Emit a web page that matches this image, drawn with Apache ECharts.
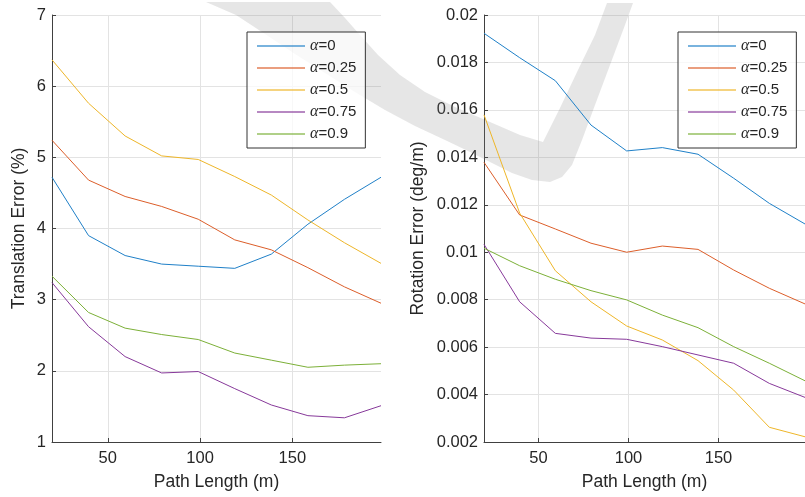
<!DOCTYPE html>
<html>
<head>
<meta charset="utf-8">
<script src="https://cdn.jsdelivr.net/npm/echarts@6/dist/echarts.min.js"></script>
<style>
html,body{margin:0;padding:0;background:#fff;overflow:hidden;}
#chart{width:805px;height:497px;}
</style>
</head>
<body>
<div id="chart"></div>
<script>
// ---- data ----
const pathLength = [19.8, 39.6, 59.4, 79.2, 99, 118.8, 138.6, 158.4, 178.2, 198];
const seriesNames = ['α=0', 'α=0.25', 'α=0.5', 'α=0.75', 'α=0.9'];
const xTicks = [50, 100, 150];

// Translation error (%)
const transA0   = [4.72, 3.90, 3.62, 3.50, 3.47, 3.44, 3.64, 4.06, 4.41, 4.72];
const transA025 = [5.24, 4.68, 4.45, 4.31, 4.13, 3.84, 3.70, 3.45, 3.18, 2.95];
const transA05  = [6.37, 5.76, 5.30, 5.02, 4.97, 4.73, 4.47, 4.12, 3.80, 3.51];
const transA075 = [3.24, 2.62, 2.20, 1.97, 1.99, 1.75, 1.52, 1.37, 1.34, 1.51];
const transA09  = [3.33, 2.82, 2.60, 2.51, 2.44, 2.25, 2.15, 2.05, 2.08, 2.10];

// Rotation error (deg/m)
const rotA0   = [0.01923, 0.01820, 0.01723, 0.01536, 0.01427, 0.01441, 0.01413, 0.01312, 0.01206, 0.01119];
const rotA025 = [0.01379, 0.01157, 0.01098, 0.01038, 0.01000, 0.01026, 0.01012, 0.00925, 0.00848, 0.00782];
const rotA05  = [0.01579, 0.01165, 0.00922, 0.00791, 0.00689, 0.00630, 0.00543, 0.00419, 0.00262, 0.00222];
const rotA075 = [0.01033, 0.00791, 0.00658, 0.00638, 0.00633, 0.00602, 0.00567, 0.00532, 0.00447, 0.00388];
const rotA09  = [0.01017, 0.00943, 0.00886, 0.00838, 0.00799, 0.00735, 0.00682, 0.00602, 0.00532, 0.00458];

const transData = [transA0, transA025, transA05, transA075, transA09];
const rotData = [rotA0, rotA025, rotA05, rotA075, rotA09];
const colors = ['#1f80c8', '#dc5e2a', '#eeb629', '#87399a', '#7cb038'];

const FONT = '"Liberation Sans", Arial, Helvetica, sans-serif';
const TXT = '#262626';

function pairs(ys) { return pathLength.map((x, i) => [x, ys[i]]); }

function xAxisCfg(gridIndex) {
  return {
    type: 'value', gridIndex: gridIndex, min: 19.8, max: 198,
    name: 'Path Length (m)', nameLocation: 'middle', nameGap: 31,
    nameTextStyle: { fontFamily: FONT, fontSize: 17.5, color: TXT },
    axisLine: { show: true, lineStyle: { color: '#404040', width: 1 } },
    axisTick: { show: true, inside: true, length: 4, customValues: xTicks, lineStyle: { color: '#404040' } },
    axisLabel: { customValues: xTicks, fontFamily: FONT, fontSize: 16.5, color: TXT, margin: 8 },
    splitLine: { show: true, lineStyle: { color: '#e3e3e3', width: 1 } }
  };
}

function yAxisCfg(gridIndex, name, min, max, interval, gap, fmt) {
  return {
    type: 'value', gridIndex: gridIndex, min: min, max: max, interval: interval,
    name: name, nameLocation: 'middle', nameGap: gap, nameRotate: 90,
    nameTextStyle: { fontFamily: FONT, fontSize: 17.5, color: TXT },
    axisLine: { show: true, lineStyle: { color: '#404040', width: 1 } },
    axisTick: { show: true, inside: true, length: 4, lineStyle: { color: '#404040' } },
    axisLabel: { fontFamily: FONT, fontSize: 16.5, color: TXT, margin: 6, formatter: fmt },
    splitLine: { show: true, lineStyle: { color: '#e3e3e3', width: 1 } }
  };
}

function legendCfg(left) {
  return {
    orient: 'vertical', left: left, top: 32,
    data: seriesNames,
    itemWidth: 48, itemHeight: 14, itemGap: 6,
    padding: [6, 9, 6, 10],
    borderColor: '#333', borderWidth: 1, backgroundColor: 'rgba(255,255,255,0.75)',
    icon: 'path://M0,0 L48,0 L48,2 L0,2 Z',
    selectedMode: false,
    itemStyle: { opacity: 0.6 },
    formatter: function (n) { return '{a|α}=' + n.split('=')[1]; },
    textStyle: {
      fontFamily: FONT, fontSize: 15, color: TXT,
      rich: { a: { fontFamily: '"Liberation Serif", serif', fontStyle: 'italic', fontSize: 16, color: TXT } }
    }
  };
}

const series = [];
transData.forEach((d, i) => series.push({
  name: seriesNames[i], type: 'line', xAxisIndex: 0, yAxisIndex: 0,
  data: pairs(d), symbol: 'none', lineStyle: { width: 1, color: colors[i] }, itemStyle: { color: colors[i] }
}));
rotData.forEach((d, i) => series.push({
  name: seriesNames[i], type: 'line', xAxisIndex: 1, yAxisIndex: 1,
  data: pairs(d), symbol: 'none', lineStyle: { width: 1, color: colors[i] }, itemStyle: { color: colors[i] }
}));

const chart = echarts.init(document.getElementById('chart'), null, { renderer: 'canvas' });
chart.setOption({
  animation: false,
  backgroundColor: '#ffffff',
  grid: [
    { left: 52, right: 424, top: 15, bottom: 55 },
    { left: 484, right: -8, top: 15, bottom: 55 }
  ],
  xAxis: [xAxisCfg(0), xAxisCfg(1)],
  yAxis: [
    yAxisCfg(0, 'Translation Error (%)', 1, 7, 1, 24, null),
    yAxisCfg(1, 'Rotation Error (deg/m)', 0.002, 0.02, 0.002, 57, function (v) { return String(parseFloat(v.toFixed(4))); })
  ],
  legend: [legendCfg(247), legendCfg(678)],
  graphic: [{
    type: 'polygon', z: 1, silent: true,
    shape: {
      points: [
        [206, 2], [330, 2], [345, 18], [360, 35], [378, 55], [400, 75], [425, 92], [455, 107], [490, 122],
        [520, 135], [543, 142], [560, 108], [578, 70], [595, 35], [607, 3], [633, 3], [625, 25], [610, 65],
        [595, 105], [582, 140], [572, 165], [562, 177], [550, 182], [532, 180], [512, 173], [490, 162],
        [468, 151], [445, 140], [415, 126], [385, 110], [355, 92], [325, 73], [295, 54], [265, 34], [236, 15]
      ]
    },
    style: { fill: 'rgba(128,128,128,0.2)' }
  }],
  series: series
});
</script>
</body>
</html>
